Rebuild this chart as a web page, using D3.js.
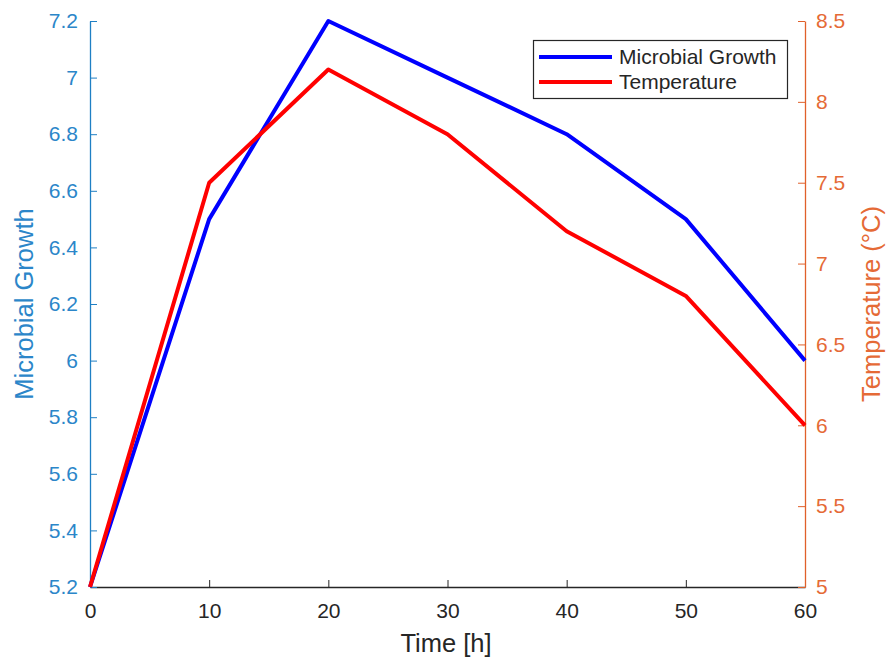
<!DOCTYPE html>
<html><head><meta charset="utf-8">
<script src="https://cdn.jsdelivr.net/npm/d3@7"></script>
<style>body{margin:0;background:#fff;font-family:"Liberation Sans",Arial,sans-serif;}</style>
</head><body><svg id="c" width="886" height="658"></svg>
<script>
const timeH = [0, 10, 20, 30, 40, 50, 60];
const growth = [5.2, 6.5, 7.2, 7.0, 6.8, 6.5, 6.0];
const temperature = [5.0, 7.5, 8.2, 7.8, 7.2, 6.8, 6.0];
const xTicks = [0, 10, 20, 30, 40, 50, 60];
const leftTicks = [5.2, 5.4, 5.6, 5.8, 6, 6.2, 6.4, 6.6, 6.8, 7, 7.2];
const rightTicks = [5, 5.5, 6, 6.5, 7, 7.5, 8, 8.5];
const seriesNames = ["Microbial Growth", "Temperature"];

const svg = d3.select("#c");
const L = 90, R = 805, T = 21, B = 587;
const leftColor = "#1F7FC4", leftText = "#2B86C9", rightColor = "#E0602A", rightText = "#E56A36", axisColor = "#262626";
const FF = "Liberation Sans, Arial, sans-serif";
const x = d3.scaleLinear().domain([0, 60]).range([L, R]);
const yL = d3.scaleLinear().domain([5.2, 7.2]).range([B, T]);
const yR = d3.scaleLinear().domain([5, 8.5]).range([B, T]);
const fmt = d => String(+d.toFixed(2));

// x axis
const gx = svg.append("g").attr("transform", `translate(0,${B})`)
  .call(d3.axisBottom(x).tickValues(xTicks).tickFormat(fmt).tickSizeInner(-7).tickSizeOuter(0).tickPadding(16));
gx.select(".domain").attr("stroke", axisColor).attr("stroke-width", 1.3);
gx.selectAll(".tick line").attr("stroke", axisColor);
gx.selectAll("text").attr("fill", axisColor).attr("font-size", 21).attr("font-family", FF);

// left axis
const gl = svg.append("g").attr("transform", `translate(${L},0)`)
  .call(d3.axisLeft(yL).tickValues(leftTicks).tickFormat(fmt).tickSizeInner(-7).tickSizeOuter(0).tickPadding(12));
gl.select(".domain").attr("stroke", leftColor).attr("stroke-width", 1.3);
gl.selectAll(".tick line").attr("stroke", leftColor);
gl.selectAll("text").attr("fill", leftText).attr("font-size", 21).attr("font-family", FF);

// right axis
const gr = svg.append("g").attr("transform", `translate(${R},0)`)
  .call(d3.axisRight(yR).tickValues(rightTicks).tickFormat(fmt).tickSizeInner(-7).tickSizeOuter(0).tickPadding(11));
gr.select(".domain").attr("stroke", rightColor).attr("stroke-width", 1.3);
gr.selectAll(".tick line").attr("stroke", rightColor);
gr.selectAll("text").attr("fill", rightText).attr("font-size", 21).attr("font-family", FF);

// axis labels
svg.append("text").attr("x", 446).attr("y", 652).attr("text-anchor", "middle")
  .attr("font-size", 25.5).attr("fill", axisColor).text("Time [h]");
svg.append("text").attr("transform", `translate(33,${(T + B) / 2}) rotate(-90)`).attr("text-anchor", "middle")
  .attr("font-size", 25.5).attr("fill", leftText).text("Microbial Growth");
svg.append("text").attr("transform", `translate(880,${(T + B) / 2}) rotate(-90)`).attr("text-anchor", "middle")
  .attr("font-size", 25.5).attr("fill", rightText).text("Temperature (°C)");

// lines
const lineL = d3.line().x((d, i) => x(timeH[i])).y(d => yL(d));
const lineR = d3.line().x((d, i) => x(timeH[i])).y(d => yR(d));
svg.append("path").datum(growth).attr("d", lineL).attr("fill", "none").attr("stroke", "#0000FF").attr("stroke-width", 4).attr("stroke-linejoin", "round");
svg.append("path").datum(temperature).attr("d", lineR).attr("fill", "none").attr("stroke", "#FF0000").attr("stroke-width", 4).attr("stroke-linejoin", "round");

// legend
const lg = svg.append("g");
lg.append("rect").attr("x", 533.5).attr("y", 40.5).attr("width", 254).attr("height", 58)
  .attr("fill", "#fff").attr("stroke", "#262626").attr("stroke-width", 1.2);
const lc = ["#0000FF", "#FF0000"];
seriesNames.forEach((n, i) => {
  const yy = 57 + i * 25;
  lg.append("line").attr("x1", 539).attr("x2", 612).attr("y1", yy).attr("y2", yy).attr("stroke", lc[i]).attr("stroke-width", 4);
  lg.append("text").attr("x", 619).attr("y", yy + 7).attr("font-size", 21).attr("fill", "#262626").attr("font-family", FF).text(n);
});
</script></body></html>
